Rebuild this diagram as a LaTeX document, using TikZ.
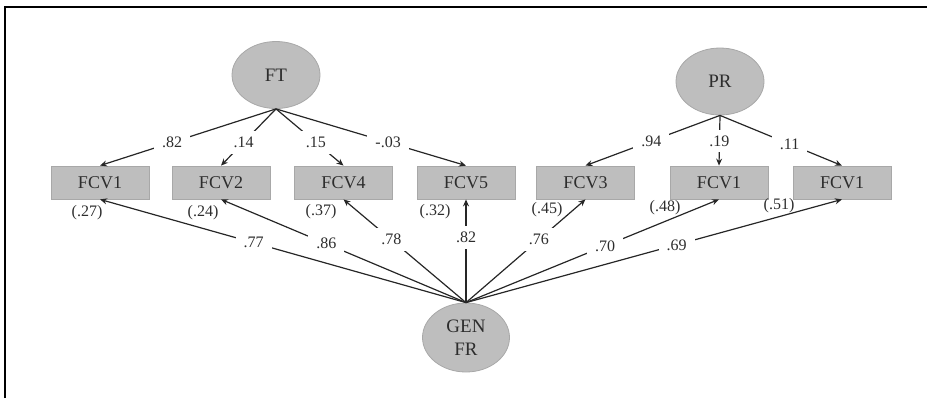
\documentclass[tikz,border=0pt]{standalone}
\usepackage{fontspec}
\setmainfont{Liberation Serif}
\usetikzlibrary{shapes.geometric,arrows.meta}
\definecolor{boxgray}{RGB}{190,190,190}
\definecolor{edgegray}{RGB}{168,168,168}
\definecolor{inkgray}{RGB}{45,45,45}
\begin{document}
\begin{tikzpicture}[x=0.5pt,y=-0.5pt,
  latent/.style={ellipse,draw=edgegray,fill=boxgray,text=inkgray,
    minimum width=44pt,minimum height=33.5pt,inner sep=0pt,
    font=\fontsize{9.5}{11.5}\selectfont,align=center},
  observed/.style={rectangle,draw=edgegray,fill=boxgray,text=inkgray,
    minimum width=49pt,minimum height=16.5pt,inner sep=0pt,
    font=\fontsize{9}{10}\selectfont},
  coef/.style={fill=white,text=inkgray,inner xsep=4pt,inner ysep=3pt,
    font=\fontsize{8}{9}\selectfont},
  errvar/.style={text=inkgray,inner sep=0pt,font=\fontsize{8}{9}\selectfont},
  path/.style={draw=black!85,line width=0.6pt,-{Stealth[length=3.5pt,width=3pt]}}]
\useasboundingbox (0,0) rectangle (927,398);
\draw[line width=0.9pt] (5,398) -- (5,7) -- (927,7);
\node[latent] (ft) at (276,75) {FT};
\node[latent] (pr) at (720,81.5) {PR};
\node[latent,minimum width=43.5pt,minimum height=34.5pt] (gen) at (466,337.5) {GEN\\FR};
\node[observed] (fcv1) at (100,182.5) {FCV1};
\node[observed] (fcv2) at (221,182.5) {FCV2};
\node[observed] (fcv4) at (343.5,182.5) {FCV4};
\node[observed] (fcv5) at (466,182.5) {FCV5};
\node[observed] (fcv3) at (585.5,182.5) {FCV3};
\node[observed] (fcv1b) at (719,182.5) {FCV1};
\node[observed] (fcv1c) at (842,182.5) {FCV1};
\node[errvar] (e1) at (87,213) {(.27)};
\node[errvar] (e2) at (203,213) {(.24)};
\node[errvar] (e4) at (321,212) {(.37)};
\node[errvar] (e5) at (435,212) {(.32)};
\node[errvar] (e3) at (547,210) {(.45)};
\node[errvar] (e1b) at (665,208) {(.48)};
\node[errvar] (e1c) at (779,206) {(.51)};
\draw[path] (ft.south) -- node[coef,pos=0.59] {.82} (fcv1.north);
\draw[path] (ft.south) -- node[coef,pos=0.59] {.14} (fcv2.north);
\draw[path] (ft.south) -- node[coef,pos=0.59] {.15} (fcv4.north);
\draw[path] (ft.south) -- node[coef,pos=0.59] {-.03} (fcv5.north);
\draw[path] (pr.south) -- node[coef,pos=0.51] {.94} (fcv3.north);
\draw[path] (pr.south) -- node[coef,pos=0.51] {.19} (fcv1b.north);
\draw[path] (pr.south) -- node[coef,pos=0.57] {.11} (fcv1c.north);
\draw[path] (gen.north) -- node[coef,pos=0.58] {.77} (fcv1.south);
\draw[path] (gen.north) -- node[coef,pos=0.57] {.86} (fcv2.south);
\draw[path] (gen.north) -- node[coef,pos=0.61] {.78} (fcv4.south);
\draw[path] (gen.north) -- node[coef,pos=0.63] {.82} (fcv5.south);
\draw[path] (gen.north) -- node[coef,pos=0.61] {.76} (fcv3.south);
\draw[path] (gen.north) -- node[coef,pos=0.55] {.70} (fcv1b.south);
\draw[path] (gen.north) -- node[coef,pos=0.56] {.69} (fcv1c.south);
\end{tikzpicture}
\end{document}
